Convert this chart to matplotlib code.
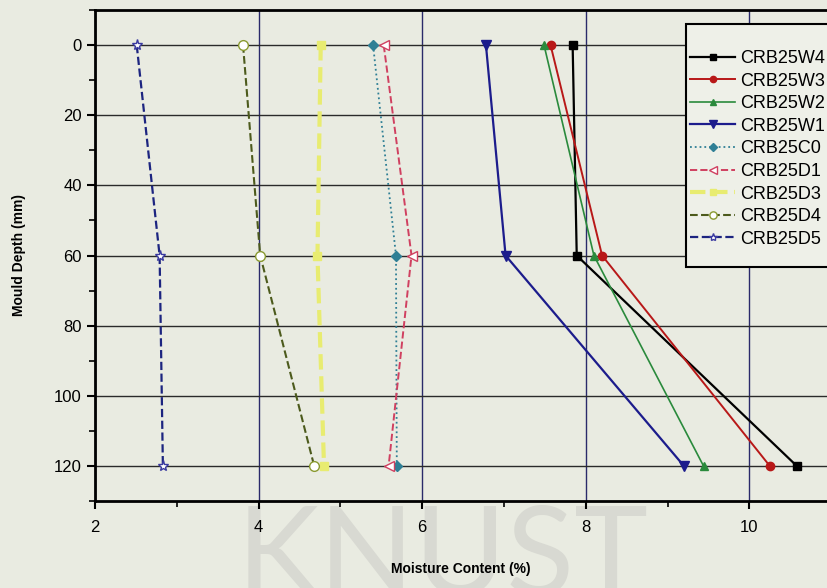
import numpy as np
import matplotlib.pyplot as plt
from matplotlib.patches import Rectangle
from matplotlib.ticker import MultipleLocator

plt.rcParams['font.family'] = ['Liberation Sans', 'DejaVu Sans']

# mould depth (mm) for every series
depth = [0, 60, 120]

# moisture content (%) at each depth
w4 = [7.84, 7.89, 10.58]
w3 = [7.57, 8.20, 10.25]
w2 = [7.49, 8.10, 9.44]
w1 = [6.78, 7.02, 9.20]
c0 = [5.40, 5.68, 5.69]
d1 = [5.53, 5.87, 5.59]
d3 = [4.76, 4.72, 4.80]
d4 = [3.81, 4.02, 4.68]
d5 = [2.51, 2.79, 2.83]

labels = ['CRB25W4', 'CRB25W3', 'CRB25W2', 'CRB25W1', 'CRB25C0',
          'CRB25D1', 'CRB25D3', 'CRB25D4', 'CRB25D5']

paper = '#e9ebe1'
W, H = 827, 588

fig = plt.figure(figsize=(8.27, 5.88), dpi=100, facecolor=paper)
ax = fig.add_axes([95/W, 1 - 501/H, 1 - 95/W, (501 - 10)/H])
ax.set_facecolor('none')

# faint watermark sitting behind the axes
fig.text(0.535, -0.012, 'KNUST', fontsize=90, color='#d8d9d2', ha='center',
         va='baseline', zorder=-5, family=['Lato', 'Liberation Sans'])

ax.plot(w4, depth, '-', color='black', marker='s', ms=6, lw=1.6, label=labels[0])
ax.plot(w3, depth, '-', color='#b81818', marker='o', ms=6, lw=1.4, label=labels[1])
ax.plot(w2, depth, '-', color='#2a8a3c', marker='^', ms=6, lw=1.2, label=labels[2])
ax.plot(w1, depth, '-', color='#1c1c8c', marker='v', ms=7, lw=1.6, label=labels[3])
ax.plot(c0, depth, ':', color='#2f7f95', marker='D', ms=5, lw=1.3, label=labels[4])
ax.plot(d1, depth, '--', color='#d04060', marker='<', ms=7, lw=1.4,
        mfc='white', label=labels[5])
ax.plot(d3, depth, '--', color='#e8ec70', marker='s', ms=6, lw=3.0,
        mfc='#e8ec70', mec='#e8ec70', label=labels[6])
ax.plot(d4, depth, '--', color='#4c5a1c', marker='o', ms=7, lw=1.5,
        mfc='white', mec='#8a9a30', label=labels[7])
ax.plot(d5, depth, '--', color='#1c2480', marker='*', ms=8, lw=1.6,
        mfc='white', mec='#3a3aa0', label=labels[8])

ax.set_xlim(2, 10.95)
ax.set_ylim(130, -10)
ax.xaxis.set_major_locator(MultipleLocator(2))
ax.xaxis.set_minor_locator(MultipleLocator(1))
ax.yaxis.set_minor_locator(MultipleLocator(10))
ax.set_yticks([0, 20, 40, 60, 80, 100, 120])

ax.grid(True, axis='y', which='major', color='#2a2a2a', lw=1.0)
ax.grid(True, axis='x', which='major', color='#2a2a6a', lw=1.0)
ax.set_axisbelow(True)

for s in ['left', 'bottom', 'top']:
    ax.spines[s].set_linewidth(2.0)
ax.spines['right'].set_visible(False)

ax.tick_params(which='major', direction='out', length=6, width=1.5, labelsize=12)
ax.tick_params(axis='x', which='major', pad=8)
ax.tick_params(which='minor', direction='out', length=4, width=1.2)

ax.set_xlabel('Moisture Content (%)', fontsize=10, fontweight='bold', labelpad=19)
ax.set_ylabel('Mould Depth (mm)', fontsize=10, fontweight='bold', labelpad=20)

# legend box runs off the right edge, so the frame is drawn on its own
fig.patches.append(Rectangle((686/W, 1 - 267/H), 0.2, (267 - 24)/H,
                             transform=fig.transFigure, facecolor='#eef0e8',
                             edgecolor='black', lw=1.5, zorder=3))
leg = fig.legend(loc='upper left', bbox_to_anchor=(690/W, 1 - 50/H),
                 borderaxespad=0, borderpad=0, fontsize=13,
                 handlelength=2.5, handletextpad=0.3, labelspacing=0.31,
                 markerscale=0.75, frameon=False)
leg.set_zorder(4)

fig.savefig('out.png', dpi=100, facecolor=paper)
